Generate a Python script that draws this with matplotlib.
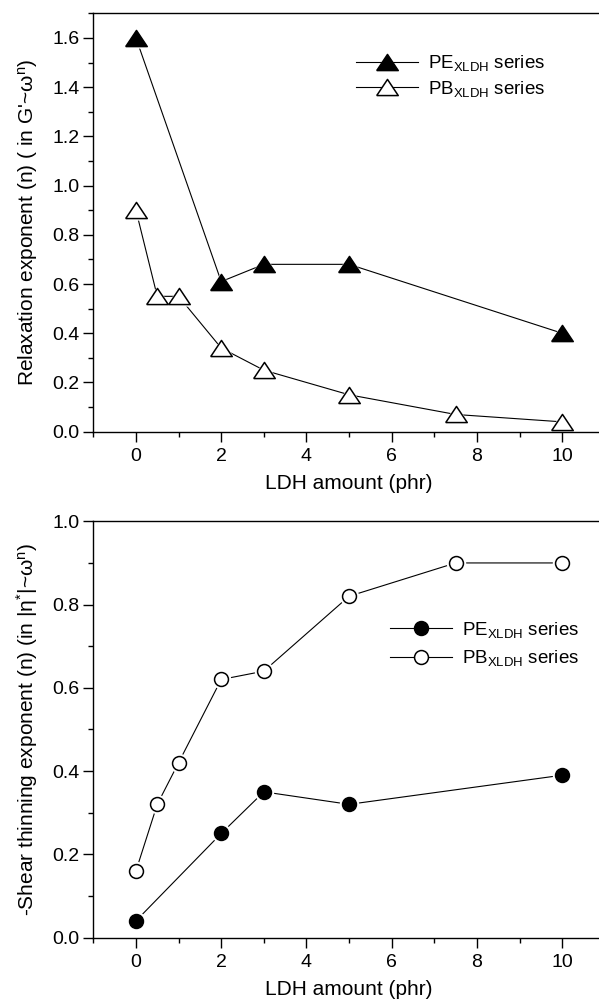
import matplotlib
matplotlib.use('Agg')
import matplotlib.pyplot as plt
from matplotlib.lines import Line2D
from matplotlib.ticker import MultipleLocator

plt.rcParams['font.family'] = ['Liberation Sans', 'DejaVu Sans']
plt.rcParams['mathtext.fontset'] = 'custom'
plt.rcParams['mathtext.rm'] = 'Liberation Sans'
plt.rcParams['mathtext.it'] = 'Liberation Sans'
plt.rcParams['mathtext.default'] = 'regular'

# relaxation exponent (top panel)
pe_x = [0, 2, 3, 5, 10]
pe_relax = [1.60, 0.61, 0.68, 0.68, 0.40]
pb_x = [0, 0.5, 1, 2, 3, 5, 7.5, 10]
pb_relax = [0.90, 0.55, 0.55, 0.34, 0.25, 0.15, 0.07, 0.04]

# shear thinning exponent (bottom panel)
pe_shear = [0.04, 0.25, 0.35, 0.32, 0.39]
pb_shear = [0.16, 0.32, 0.42, 0.62, 0.64, 0.82, 0.90, 0.90]

pe_label = r'PE$_{\mathregular{XLDH}}$ series'
pb_label = r'PB$_{\mathregular{XLDH}}$ series'

# flatter triangle than matplotlib's '^'
tri = [(-1, -0.75), (1, -0.75), (0, 0.75), (-1, -0.75)]

fig = plt.figure(figsize=(5.99, 10.07), dpi=100)
ax1 = fig.add_axes([0.1558, 0.5713, 0.854, 0.4155])
ax2 = fig.add_axes([0.1558, 0.0690, 0.854, 0.4133])


def draw_series(ax, x, y, marker, ms, filled):
    ax.plot(x, y, color='black', lw=0.8, zorder=1)
    # white halo so the line stops short of each marker
    ax.plot(x, y, ls='none', marker=marker, ms=ms + 4, mfc='white',
            mec='white', mew=0, zorder=2)
    ax.plot(x, y, ls='none', marker=marker, ms=ms,
            mfc='black' if filled else 'white', mec='black', mew=1.1, zorder=3)


def style_axis(ax, ymax, ystep):
    ax.set_xlim(-1, 11)
    ax.set_ylim(0, ymax)
    ax.xaxis.set_major_locator(MultipleLocator(2))
    ax.xaxis.set_minor_locator(MultipleLocator(1))
    ax.yaxis.set_major_locator(MultipleLocator(ystep))
    ax.yaxis.set_minor_locator(MultipleLocator(ystep / 2))
    ax.tick_params(which='both', direction='out', top=False, right=False,
                   labelsize=14, width=1.0)
    ax.tick_params(which='major', length=7)
    ax.tick_params(which='minor', length=3.5)
    ax.tick_params(axis='x', which='major', pad=5)
    ax.tick_params(axis='y', which='major', pad=3)
    for s in ax.spines.values():
        s.set_linewidth(1.0)
    ax.set_xlabel('LDH amount (phr)', fontsize=15, labelpad=6)


def legend_handles(marker, ms):
    return [Line2D([], [], color='black', lw=0.8, marker=marker, ms=ms,
                   mfc=fc, mec='black', mew=1.1) for fc in ('black', 'white')]


draw_series(ax1, pe_x, pe_relax, tri, 15.5, True)
draw_series(ax1, pb_x, pb_relax, tri, 15.5, False)
style_axis(ax1, 1.7, 0.2)
ax1.set_ylabel("Relaxation exponent (n) ( in G'~ω$^{n}$)", fontsize=15, labelpad=9)
ax1.legend(legend_handles(tri, 15.5), [pe_label, pb_label], loc='center left',
           bbox_to_anchor=(0.514, 0.85), frameon=False, fontsize=13.5,
           handlelength=3.3, handletextpad=0.55, labelspacing=0.3,
           borderpad=0, borderaxespad=0)

draw_series(ax2, pe_x, pe_shear, 'o', 10, True)
draw_series(ax2, pb_x, pb_shear, 'o', 10, False)
style_axis(ax2, 1.0, 0.2)
ax2.set_ylabel(r'-Shear thinning exponent (n) (in |η$^{*}$|~ω$^{n}$)', fontsize=15, labelpad=9)
ax2.legend(legend_handles('o', 10), [pe_label, pb_label], loc='center left',
           bbox_to_anchor=(0.58, 0.705), frameon=False, fontsize=13.5,
           handlelength=3.3, handletextpad=0.55, labelspacing=0.45,
           borderpad=0, borderaxespad=0)

fig.savefig('out.png', dpi=100)
